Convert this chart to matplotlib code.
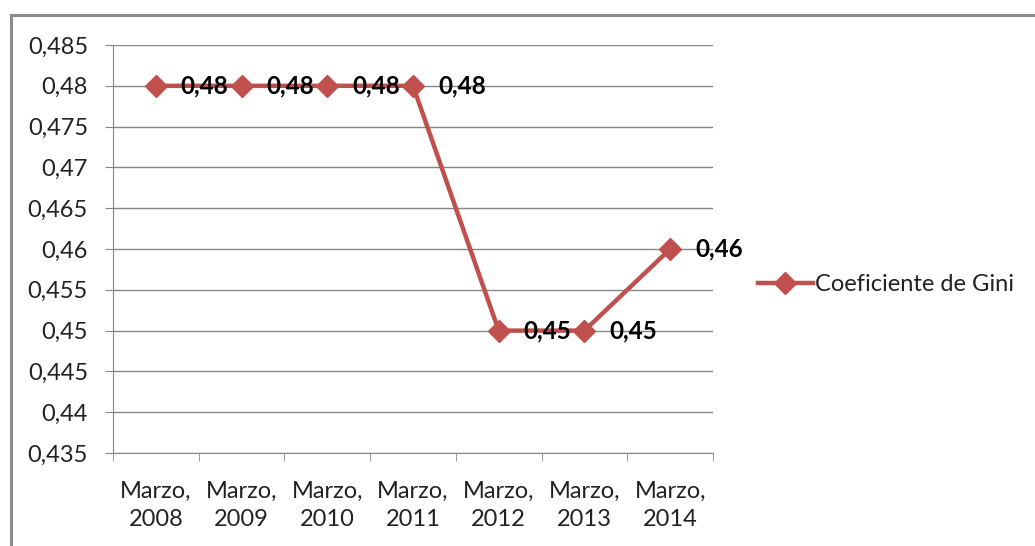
import numpy as np
import matplotlib.pyplot as plt
from matplotlib.patches import Rectangle
from matplotlib.ticker import FixedLocator

# datos
periodos = ['Marzo,\n2008', 'Marzo,\n2009', 'Marzo,\n2010', 'Marzo,\n2011',
            'Marzo,\n2012', 'Marzo,\n2013', 'Marzo,\n2014']
gini = [0.48, 0.48, 0.48, 0.48, 0.45, 0.45, 0.46]
etiquetas = ['0,48', '0,48', '0,48', '0,48', '0,45', '0,45', '0,46']
y_ticks = np.arange(0.435, 0.4851, 0.005)

plt.rcParams['font.family'] = ['Lato', 'DejaVu Sans']
gris = '#868686'
rojo = '#C0504D'

fig = plt.figure(figsize=(10.35, 5.46), dpi=100)
ax = fig.add_axes([113/1035, 1-453/546, 600/1035, 408/546])

# borde del grafico
fig.patches.append(Rectangle((11/1035, -0.1), 1.2, 1-15/546+0.1,
                             transform=fig.transFigure, fill=False,
                             edgecolor='#8c8c8c', lw=2.2, zorder=0))

x = np.arange(len(gini))
ax.plot(x, gini, color=rojo, lw=3.2, marker='D', ms=11, label='Coeficiente de Gini',
        zorder=3, clip_on=False)
for xi, yi, t in zip(x, gini, etiquetas):
    ax.annotate(t, (xi, yi), xytext=(18, 0), textcoords='offset points',
                ha='left', va='center', fontsize=17.5, fontweight='bold',
                color='black', zorder=4)

ax.set_xlim(-0.5, len(gini) - 0.5)
ax.set_ylim(0.435, 0.485)
ax.set_yticks(y_ticks)
ax.set_yticklabels([('%g' % round(v, 3)).replace('.', ',') for v in y_ticks])
ax.set_xticks(x)
ax.set_xticklabels(periodos, linespacing=1.4)
ax.xaxis.set_minor_locator(FixedLocator(np.arange(-0.5, len(gini), 1.0)))

ax.grid(axis='y', color=gris, lw=1)
ax.set_axisbelow(True)
for s in ['top', 'right']:
    ax.spines[s].set_visible(False)
ax.spines['left'].set_color(gris)
ax.spines['bottom'].set_color(gris)
ax.tick_params(axis='y', length=6, color=gris, pad=12, labelsize=17, labelcolor='#222222')
ax.tick_params(axis='x', which='major', length=0, pad=20, labelsize=17, labelcolor='#222222')
ax.tick_params(axis='x', which='minor', length=6, color=gris)

ax.legend(loc='center left', bbox_to_anchor=(1.04, 0.412), frameon=False,
          fontsize=17, handlelength=2.3, handletextpad=0.1, labelcolor='#222222')

fig.savefig('out.png', dpi=100)
